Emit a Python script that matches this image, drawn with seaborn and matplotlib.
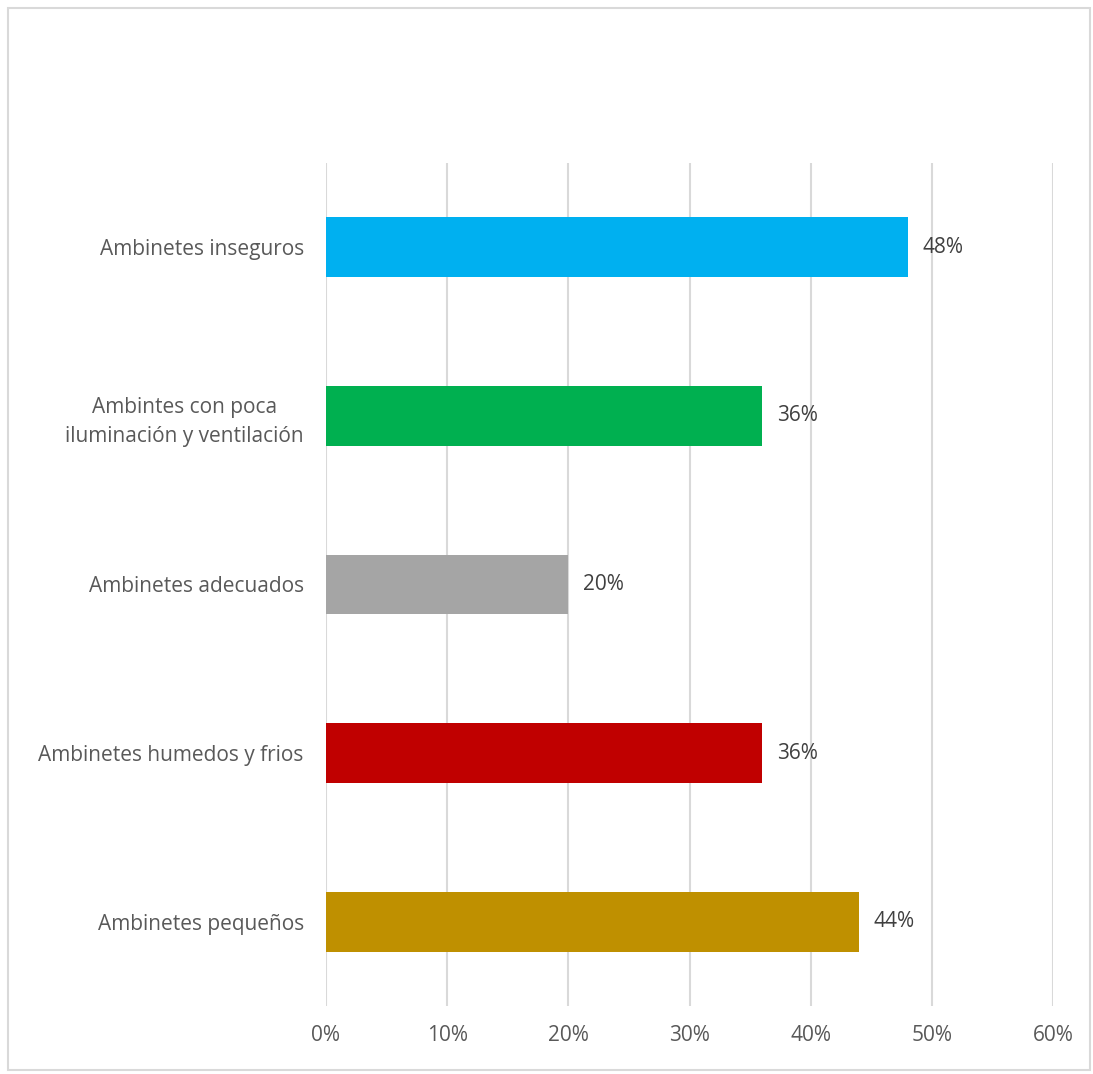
import numpy as np
import pandas as pd
import matplotlib; matplotlib.use("Agg"); import matplotlib.pyplot as plt
from matplotlib.patches import Rectangle
import seaborn as sns

categories = ["Ambinetes inseguros", "Ambintes con poca\niluminación y ventilación",
              "Ambinetes adecuados", "Ambinetes humedos y frios", "Ambinetes pequeños"]
values = [48, 36, 20, 36, 44]
colors = ["#00B0F0", "#00B050", "#A5A5A5", "#C00000", "#BF9000"]
ticks = [0, 10, 20, 30, 40, 50, 60]

sns.set_theme(style="white")
plt.rcParams["font.family"] = ["Open Sans", "DejaVu Sans"]

df = pd.DataFrame({"cat": categories, "val": values})

fig = plt.figure(figsize=(10.93, 10.74), dpi=100)
ax = fig.add_axes([326/1093, 1-1006/1074, 727/1093, 843/1074])
sns.barplot(data=df, y="cat", x="val", hue="cat", palette=colors, legend=False,
            width=0.355, saturation=1, linewidth=0, ax=ax)

ax.set_xlim(0, 60); ax.set_ylim(4.5, -0.5)
ax.set_xticks(ticks)
ax.set_xticklabels([f"{t}%" for t in ticks], fontsize=15, color="#595959")
ax.tick_params(axis="y", labelsize=15, labelcolor="#595959", length=0, pad=16)
ax.tick_params(axis="x", length=0, pad=14)
for lab in ax.get_yticklabels():
    lab.set_multialignment("center")
    lab.set_linespacing(1.45)
ax.set_xlabel(""); ax.set_ylabel("")
for t in ticks:
    ax.axvline(t, color="#D9D9D9", lw=1.5, zorder=0)
for s in ax.spines.values():
    s.set_visible(False)

for i, v in enumerate(values):
    ax.text(v + 1.2, i, f"{v}%", va="center", ha="left", fontsize=15, color="#404040")

fig.patches.append(Rectangle((8/1093, 1-1070/1074), 1082/1093, 1062/1074,
                             transform=fig.transFigure, fill=False,
                             edgecolor="#D9D9D9", lw=1.5))
fig.savefig("out.png", dpi=100)
